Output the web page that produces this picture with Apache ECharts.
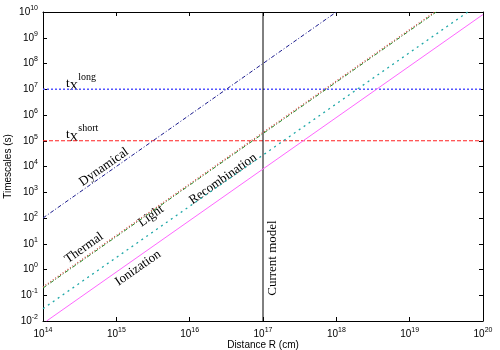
<!DOCTYPE html>
<html>
<head>
<meta charset="utf-8">
<script src="https://cdn.jsdelivr.net/npm/echarts@6/dist/echarts.min.js"></script>
<style>
    html, body { margin: 0; padding: 0; background: #fff; }
    #main { width: 500px; height: 350px; }
</style>
</head>
<body>
<div id="main"></div>
<script>
    // endpoints of each straight line (log-log)
    var dynamical = [[1e14, 1e2], [1e17, 1e8], [1e18, 1e10]];
    var thermal = [[1e14, 0.21], [2.2e19, 1e10]];
    var light = [[1e14, 0.19], [2.3e19, 1e10]];
    var recombination = [[1e14, 0.03], [6.2e19, 1e10]];
    var ionization = [[1.12e14, 0.01], [1e20, 8e9]];
    var txLong = [[1e14, 1e7], [1e20, 1e7]];
    var txShort = [[1e14, 1e5], [1e20, 1e5]];
    var currentModel = [[1e17, 1e-2], [1e17, 1e10]];

    // text labels: [text, x, y, angle in degrees]
    var labels = [
        ['Dynamical', 104, 167, 35],
        ['Thermal', 84, 248, 35],
        ['Light', 151, 216, 35],
        ['Recombination', 223, 179, 35],
        ['Ionization', 138, 268, 35],
        ['Current model', 273, 258, 90]
    ];

    function powLabel(v) {
        var e = Math.round(Math.log10(v));
        return '{b|10}{s|' + e + '}';
    }

    var tickRich = {
        b: {fontSize: 10, fontFamily: 'Liberation Sans', color: '#000'},
        s: {fontSize: 7, fontFamily: 'Liberation Sans', color: '#000', padding: [0, 0, 8, 0]}
    };

    var myChart = echarts.init(document.getElementById('main'));

    var graphic = [];
    for (var i = 0; i < labels.length; i++) {
        graphic.push({
            type: 'text',
            x: labels[i][1],
            y: labels[i][2],
            rotation: labels[i][3] * Math.PI / 180,
            style: {
                text: labels[i][0],
                fontFamily: 'Liberation Serif',
                fontSize: 13,
                fill: '#000',
                align: 'center',
                verticalAlign: 'middle'
            }
        });
    }
    var txRich = {
        t: {fontFamily: 'Liberation Serif', fontSize: 13, fill: '#000'},
        x: {fontFamily: 'Liberation Serif', fontSize: 12, fill: '#000', padding: [6, 0, 0, 0]},
        p: {fontFamily: 'Liberation Serif', fontSize: 10, fill: '#000', padding: [0, 0, 14, 0]}
    };
    graphic.push({
        type: 'text', x: 66, y: 84,
        style: {text: '{t|t}{x|X}{p|long}', rich: txRich, verticalAlign: 'middle'}
    });
    graphic.push({
        type: 'text', x: 66, y: 135,
        style: {text: '{t|t}{x|X}{p|short}', rich: txRich, verticalAlign: 'middle'}
    });

    function lineSeries(name, data, color, type, width) {
        return {
            name: name,
            type: 'line',
            data: data,
            symbol: 'none',
            silent: true,
            lineStyle: {color: color, type: type, width: width || 1}
        };
    }

    option = {
        animation: false,
        grid: {left: 43, right: 17, top: 12, bottom: 29, containLabel: false, outerBoundsMode: 'none'},
        graphic: graphic,
        xAxis: [{
            type: 'log',
            min: 1e14,
            max: 1e20,
            interval: 1,
            name: 'Distance R (cm)',
            nameLocation: 'middle',
            nameGap: 19,
            nameMoveOverlap: false,
            nameTextStyle: {fontFamily: 'Liberation Sans', fontSize: 10, color: '#000'},
            axisLine: {lineStyle: {color: '#000', width: 1}},
            axisTick: {inside: true, length: 4, lineStyle: {color: '#000'}},
            minorTick: {show: false},
            splitLine: {show: false},
            axisLabel: {formatter: powLabel, rich: tickRich, margin: 6}
        }, {
            type: 'log',
            position: 'top',
            min: 1e14,
            max: 1e20,
            interval: 1,
            axisLine: {lineStyle: {color: '#000', width: 1}},
            axisTick: {inside: true, length: 4, lineStyle: {color: '#000'}},
            splitLine: {show: false},
            axisLabel: {show: false}
        }],
        yAxis: [{
            type: 'log',
            min: 1e-2,
            max: 1e10,
            interval: 1,
            name: 'Timescales (s)',
            nameLocation: 'middle',
            nameGap: 30,
            nameMoveOverlap: false,
            nameTextStyle: {fontFamily: 'Liberation Sans', fontSize: 10, color: '#000'},
            axisLine: {show: true, lineStyle: {color: '#000', width: 1}},
            axisTick: {show: true, inside: true, length: 4, lineStyle: {color: '#000'}},
            splitLine: {show: false},
            axisLabel: {formatter: powLabel, rich: tickRich, margin: 5}
        }, {
            type: 'log',
            position: 'right',
            min: 1e-2,
            max: 1e10,
            interval: 1,
            axisLine: {show: true, lineStyle: {color: '#000', width: 1}},
            axisTick: {show: true, inside: true, length: 4, lineStyle: {color: '#000'}},
            splitLine: {show: false},
            axisLabel: {show: false}
        }],
        series: [
            lineSeries('tx long', txLong, '#5555ff', [2, 2], 1.5),
            lineSeries('tx short', txShort, '#ff2020', [4, 2], 1),
            lineSeries('Current model', currentModel, '#000', 'solid', 1),
            lineSeries('Dynamical', dynamical, '#1a1a8c', [4, 2, 1, 2], 1),
            lineSeries('Thermal', thermal, '#d04040', [1, 2], 1.3),
            lineSeries('Light', light, '#2a8a2a', [4, 2, 1, 2], 1),
            lineSeries('Recombination', recombination, '#20a8a8', [2, 4], 1.3),
            lineSeries('Ionization', ionization, '#ff66ff', 'solid', 1)
        ]
    };

    myChart.setOption(option);
</script>
</body>
</html>
